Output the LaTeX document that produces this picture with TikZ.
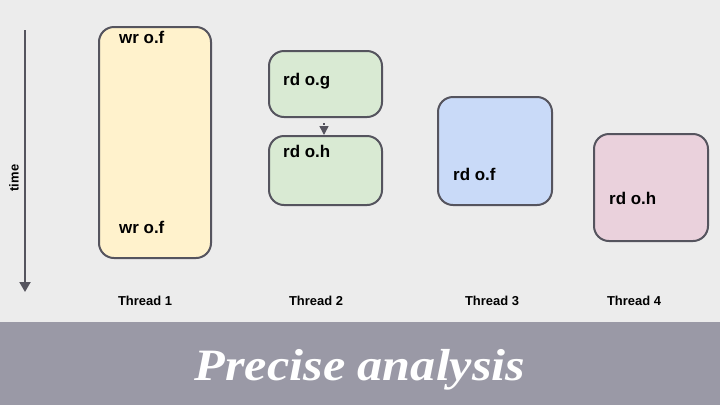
\documentclass[tikz,border=0pt]{standalone}
\usepackage{fontspec}
\setmainfont{Liberation Sans}
\newfontfamily\titlefont{Liberation Serif}
\usetikzlibrary{arrows.meta}
\definecolor{bgc}{HTML}{ECECEC}
\definecolor{bandc}{HTML}{9A99A6}
\definecolor{edgec}{HTML}{55545E}
\definecolor{yelc}{HTML}{FFF2CC}
\definecolor{grnc}{HTML}{D9EAD3}
\definecolor{bluc}{HTML}{C9DAF8}
\definecolor{pnkc}{HTML}{EAD1DC}
\tikzset{
  opbox/.style={draw=edgec, line width=2bp, rounded corners=15bp, inner sep=0pt, anchor=north west},
  optext/.style={font=\fontsize{17}{20}\selectfont\bfseries, inner sep=0pt, anchor=base west},
  thrlabel/.style={font=\fontsize{13}{15}\selectfont\bfseries, inner sep=0pt, anchor=base},
}
\begin{document}
\begin{tikzpicture}[x=1bp,y=-1bp]
\useasboundingbox (0,0) rectangle (720,405);
\fill[bgc] (0,0) rectangle (720,405);
\fill[bandc] (0,322) rectangle (720,405);
% boxes
\node[opbox, fill=yelc, minimum width=112bp, minimum height=231bp] (b1) at (98,26) {};
\node[opbox, fill=grnc, minimum width=113bp, minimum height=66bp] (b2) at (268,50) {};
\node[opbox, fill=grnc, minimum width=113bp, minimum height=69bp] (b3) at (268,135) {};
\node[opbox, fill=bluc, minimum width=114bp, minimum height=108bp] (b4) at (437,96) {};
\node[opbox, fill=pnkc, minimum width=114bp, minimum height=107bp] (b5) at (593,133) {};
% texts
\node[optext] (t1a) at (119,43) {wr o.f};
\node[optext] (t1b) at (119,233) {wr o.f};
\node[optext] (t2) at (283,85) {rd o.g};
\node[optext] (t3) at (283,157) {rd o.h};
\node[optext] (t4) at (453,180) {rd o.f};
\node[optext] (t5) at (609,204) {rd o.h};
% arrow between thread-2 ops
\draw[edgec, line width=1.5bp, dash pattern=on 0bp off 5bp on 2bp off 20bp, -{Triangle[length=9bp,width=9bp]}] (b2.south -| 324,0) -- (b3.north -| 324,0);
% time axis
\coordinate (ttop) at (25,30);
\coordinate (tbot) at (25,292);
\draw[edgec, line width=2bp, -{Triangle[length=10bp,width=11bp]}] (ttop) -- (tbot);
\node[font=\fontsize{13}{15}\selectfont\bfseries, rotate=90, inner sep=0pt] (time) at (14,178) {time};
% thread labels
\node[thrlabel] (th1) at (145,305) {Thread 1};
\node[thrlabel] (th2) at (316,305) {Thread 2};
\node[thrlabel] (th3) at (492,305) {Thread 3};
\node[thrlabel] (th4) at (634,305) {Thread 4};
% title
\node[text=white, inner sep=0pt, anchor=base] (title) at (360,380) {\scalebox{1.12}[1]{\titlefont\bfseries\itshape\fontsize{45}{50}\selectfont Precise analysis}};
\end{tikzpicture}
\end{document}
